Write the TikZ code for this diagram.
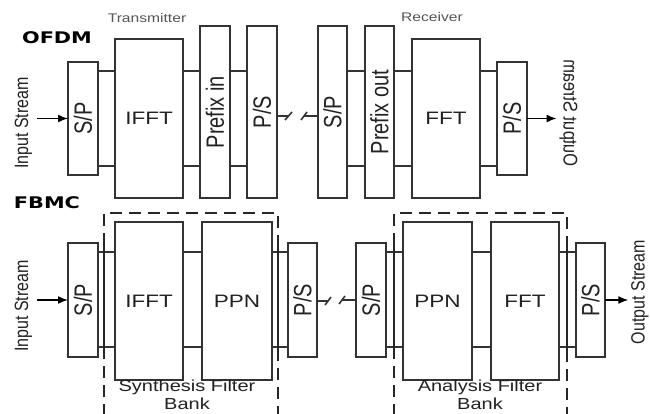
\documentclass[tikz,border=0pt]{standalone}
\usepackage{fontspec}
\setmainfont{Liberation Sans}
\newfontfamily\titlefont{DejaVu Sans}
\usepackage{graphicx}
\usetikzlibrary{arrows.meta}
\definecolor{linec}{HTML}{333333}
\definecolor{textc}{HTML}{222222}
\definecolor{smallc}{HTML}{555555}
\newcommand\vlab[1]{\rotatebox{90}{\scalebox{1}[1.25]{\fontsize{20}{22}\selectfont #1}}}
\newcommand\hlab[1]{\scalebox{1.25}[1]{\fontsize{18}{20}\selectfont #1}}
\newcommand\streamlab[1]{\rotatebox{90}{\scalebox{1}[1.2]{\fontsize{16}{18}\selectfont #1}}}
\newcommand\mirrorlab[1]{\rotatebox{90}{\scalebox{1}[-1.2]{\fontsize{16.5}{18}\selectfont #1}}}
\newcommand\banklab[1]{\scalebox{1.25}[1]{\fontsize{16}{18}\selectfont #1}}
\newcommand\sidelab[1]{\scalebox{1.25}[1]{\fontsize{12.5}{14}\selectfont #1}}
\newcommand\rowtitle[1]{\scalebox{1.3}[1]{\titlefont\bfseries\fontsize{16}{18}\selectfont #1}}
\begin{document}
\begin{tikzpicture}[x=1pt,y=-1pt,
  box/.style={draw=linec, line width=1.6pt, fill=white, inner sep=0pt, outer sep=0pt, text=textc},
  link/.style={draw=linec, line width=1.6pt},
  arr/.style={draw=black, line width=1.5pt, -{Latex[length=10pt,width=8pt]}},
  dashbox/.style={draw=black!85, line width=1.8pt, dash pattern=on 12pt off 7pt},
  plain/.style={inner sep=0pt, outer sep=0pt, text=textc}]
\useasboundingbox (0,0) rectangle (650,414);
\fill[white] (0,0) rectangle (650,414);

% titles
\node[plain, text=black] (tofdm) at (57,38) {\rowtitle{OFDM}};
\node[plain, text=black] (tfbmc) at (47,203) {\rowtitle{FBMC}};
\node[plain, text=smallc] (ttx) at (147,18) {\sidelab{Transmitter}};
\node[plain, text=smallc] (trx) at (432,17) {\sidelab{Receiver}};

% ---------------- OFDM row ----------------
\node[box, minimum width=30pt, minimum height=113pt] (sp1) at (83,118.5) {\vlab{S/P}};
\node[box, minimum width=68pt, minimum height=159pt] (ifft1) at (149,118.5) {\hlab{IFFT}};
\node[box, minimum width=30pt, minimum height=172pt] (pin) at (215,112) {\vlab{Prefix in}};
\node[box, minimum width=30pt, minimum height=172pt] (ps1) at (262,112) {\vlab{P/S}};
\node[box, minimum width=29pt, minimum height=172pt] (sp2) at (332.5,112) {\vlab{S/P}};
\node[box, minimum width=29pt, minimum height=172pt] (pout) at (379.5,112) {\vlab{Prefix out}};
\node[box, minimum width=68pt, minimum height=159pt] (fft1) at (446,118.5) {\hlab{FFT}};
\node[box, minimum width=30pt, minimum height=113pt] (ps2) at (512,118.5) {\vlab{P/S}};

\foreach \a/\b in {sp1/ifft1, ifft1/pin, pin/ps1, sp2/pout, pout/fft1, fft1/ps2}{
  \draw[link] (\a.east |- 0,71) -- (\b.west |- 0,71);
  \draw[link] (\a.east |- 0,166) -- (\b.west |- 0,166);
}

\node[plain] (in1) at (23.5,123) {\streamlab{Input Stream}};
\node[plain] (out1) at (568.5,113) {\mirrorlab{Output Stream}};
\draw[arr] ([xshift=5pt]in1.east |- sp1.west) -- (sp1.west);
\draw[arr] (ps2.east) -- ([xshift=-3pt]out1.west |- ps2.east);

% break in the OFDM channel
\coordinate (ba1) at (288,116);
\coordinate (bb1) at (304,116);
\draw[link] (ps1.east |- ba1) -- (ba1);
\draw[link] ([shift={(-3,4)}]ba1) -- ([shift={(4,-4)}]ba1);
\draw[link] ([shift={(-3,4)}]bb1) -- ([shift={(3,-4)}]bb1);
\draw[link] (bb1) -- (sp2.west |- bb1);

% ---------------- FBMC row ----------------
\draw[dashbox] (104,416) -- (104,213) -- (278,213) -- (278,416);
\draw[dashbox] (394,416) -- (394,213) -- (567,213) -- (567,416);

\node[box, minimum width=30pt, minimum height=114pt] (sp3) at (83,300) {\vlab{S/P}};
\node[box, minimum width=68pt, minimum height=158pt] (ifft2) at (149,301) {\hlab{IFFT}};
\node[box, minimum width=70pt, minimum height=158pt] (ppn1) at (237,301) {\hlab{PPN}};
\node[box, minimum width=29pt, minimum height=114pt] (ps3) at (302.5,300) {\vlab{P/S}};
\node[box, minimum width=30pt, minimum height=114pt] (sp4) at (371,300) {\vlab{S/P}};
\node[box, minimum width=69pt, minimum height=158pt] (ppn2) at (437.5,301) {\hlab{PPN}};
\node[box, minimum width=68pt, minimum height=158pt] (fft2) at (525,301) {\hlab{FFT}};
\node[box, minimum width=29pt, minimum height=114pt] (ps4) at (590.5,300) {\vlab{P/S}};

\foreach \a/\b in {sp3/ifft2, ifft2/ppn1, ppn1/ps3, sp4/ppn2, ppn2/fft2, fft2/ps4}{
  \draw[link] (\a.east |- 0,252) -- (\b.west |- 0,252);
  \draw[link] (\a.east |- 0,347) -- (\b.west |- 0,347);
}
% dashed lines pass over the brackets
\draw[dashbox] (104,245) -- (104,355);
\draw[dashbox] (278,245) -- (278,355);
\draw[dashbox] (394,245) -- (394,355);
\draw[dashbox] (567,245) -- (567,355);

\node[plain] (in2) at (23.5,306) {\streamlab{Input Stream}};
\node[plain] (out2) at (640,292) {\streamlab{Output Stream}};
\draw[arr] ([xshift=5pt]in2.east |- sp3.west) -- (sp3.west);
\draw[arr] (ps4.east) -- ([xshift=-3pt]out2.west |- ps4.east);

% break in the FBMC channel
\coordinate (ba2) at (328,301);
\coordinate (bb2) at (342,300);
\draw[link] (ps3.east |- ba2) -- (ba2);
\draw[link] ([shift={(-3,4)}]ba2) -- ([shift={(3,-4)}]ba2);
\draw[link] ([shift={(-3,4)}]bb2) -- ([shift={(3,-4)}]bb2);
\draw[link] (bb2) -- (sp4.west |- bb2);

\node[plain] (syn1) at (187,387) {\banklab{Synthesis Filter}};
\node[plain] (syn2) at (187,404) {\banklab{Bank}};
\node[plain] (ana1) at (480,387) {\banklab{Analysis Filter}};
\node[plain] (ana2) at (480,404) {\banklab{Bank}};
\end{tikzpicture}
\end{document}
